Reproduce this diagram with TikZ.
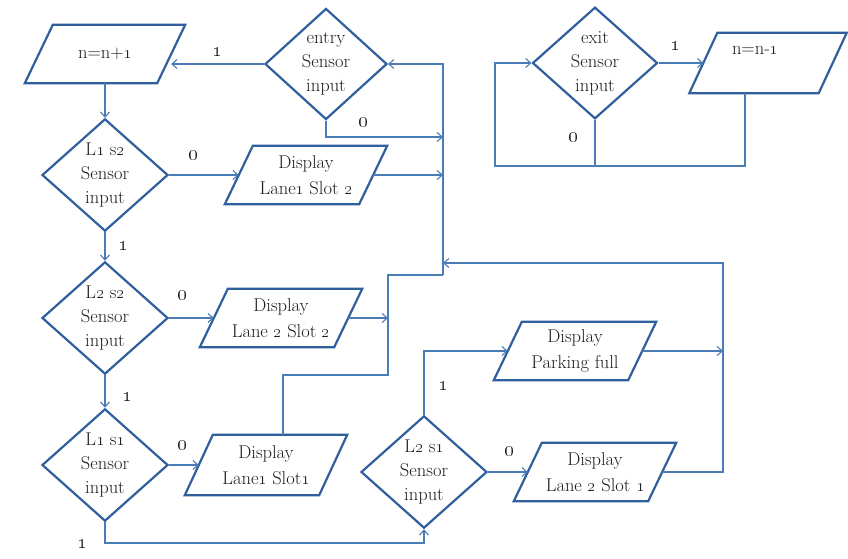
\documentclass[tikz,border=0pt]{standalone}
\usetikzlibrary{shapes.geometric,arrows.meta}
\definecolor{nodeblue}{HTML}{2F5F9C}
\definecolor{lineblue}{HTML}{4A7DB8}
\definecolor{txt}{HTML}{1E1E1E}
\newcommand{\os}[1]{\oldstylenums{#1}}
\newcommand{\bigos}[1]{\scalebox{1.45}{\oldstylenums{#1}}}
\newcommand{\pgram}[1]{\draw[nodeblue, line width=2.2pt]
  ([xshift=14pt]#1.north west) -- ([xshift=14pt]#1.north east) --
  ([xshift=-14pt]#1.south east) -- ([xshift=-14pt]#1.south west) -- cycle;}
\begin{document}
\begin{tikzpicture}[x=1pt,y=-1pt,
  every node/.style={text=txt},
  dec/.style={diamond, draw=nodeblue, line width=2.2pt, minimum width=126pt, minimum height=108pt, inner sep=0pt, align=center, font=\fontsize{18.5}{24}\selectfont},
  io/.style={rectangle, minimum width=134pt, minimum height=58pt, inner sep=0pt, align=center, font=\fontsize{18.5}{26}\selectfont},
  conn/.style={draw=lineblue, line width=1.1pt},
  arr/.style={conn, -{Straight Barb[length=5pt,width=9pt]}},
  lab/.style={font=\fontsize{14}{14}\selectfont}
]
\useasboundingbox (0,0) rectangle (848,558);
\fill[white] (0,0) rectangle (848,558);

\node[dec, minimum width=122pt, minimum height=110pt] (entry) at (326,64) {entry\\Sensor\\input};
\node[dec, minimum width=125pt, minimum height=110pt] (exit) at (595,63) {exit\\Sensor\\input};
\node[dec] (l1s2) at (105,175) {L\os{1} s\os{2}\\Sensor\\input};
\node[dec, minimum height=110pt] (l2s2) at (105,318) {L\os{2} s\os{2}\\Sensor\\input};
\node[dec] (l1s1) at (105,465) {L\os{1} s\os{1}\\Sensor\\input};
\node[dec] (l2s1) at (424,472) {L\os{2} s\os{1}\\Sensor\\input};

\node[io, minimum width=132pt] (nplus) at (105,54) {n=n+\os{1}};
\node[io] (d12) at (306,175) {Display\\Lane\os{1} Slot \os{2}};
\node[io] (d22) at (281,318) {Display\\Lane \os{2} Slot \os{2}};
\node[io, minimum height=60pt] (d11) at (266,465) {Display\\Lane\os{1} Slot\os{1}};
\node[io] (dpf) at (575,351) {Display\\Parking full};
\node[io] (d21) at (595,472) {Display\\Lane \os{2} Slot \os{1}};
\node[io, minimum width=129pt, minimum height=60pt,
  label={[yshift=13pt,xshift=-13pt,font=\fontsize{18.5}{20}\selectfont,text=txt]center:n=n-\os{1}}] (nminus) at (768,63) {};

\foreach \n in {nplus,d12,d22,d11,dpf,d21,nminus} {\pgram{\n}}

\coordinate (ct) at (443,64);
\coordinate (c137) at (443,137);
\coordinate (cb) at (443,275);
\coordinate (j1) at (388,275);
\coordinate (j2) at (388,375);
\coordinate (k1) at (283,375);
\coordinate (c263) at (443,263);
\coordinate (r1) at (723,263);
\coordinate (b1) at (424,543);
\coordinate (e1) at (745,166);
\coordinate (e2) at (495,166);
\coordinate (e3) at (495,63);

\draw[arr] (entry.west) -- (entry.west -| nplus.east);
\draw[arr] (entry.south) |- (c137);
\draw[arr] (cb) -- (ct) -- (entry.east);
\draw[conn] (k1 |- d11.north) -- (k1) -- (j2) -- (j1) -- (cb);
\draw[arr] (nplus.south) -- (l1s2.north);
\draw[arr] (l1s2.east) -- (d12.west);
\draw[arr] (d12.east) -- (d12.east -| ct);
\draw[arr] (l1s2.south) -- (l2s2.north);
\draw[arr] (l2s2.east) -- (d22.west);
\draw[arr] (d22.east) -- (d22.east -| j1);
\draw[arr] (l2s2.south) -- (l1s1.north);
\draw[arr] (l1s1.east) -- (d11.west);
\draw[arr] (l1s1.south) |- (b1) -- (l2s1.south);
\draw[arr] (l2s1.north) |- (dpf.west);
\draw[arr] (l2s1.east) -- (d21.west);
\draw[arr] (dpf.east) -- (dpf.east -| r1);
\draw[arr] (d21.east) -| (r1) -- (c263);
\draw[arr] (exit.east) -- (nminus.west);
\draw[arr] (e1 |- nminus.south) -- (e1) -- (e2) -- (e3) -- (exit.west);
\draw[conn] (exit.south) -- (exit.south |- e1);

\node[lab] (t1) at (217,52) {\bigos{1}};
\node[lab] (t2) at (363,122) {\bigos{0}};
\node[lab] (t3) at (193,155) {\bigos{0}};
\node[lab] (t4) at (123,246) {\bigos{1}};
\node[lab] (t5) at (182,295) {\bigos{0}};
\node[lab] (t6) at (127,397) {\bigos{1}};
\node[lab] (t7) at (182,445) {\bigos{0}};
\node[lab] (t8) at (82,544) {\bigos{1}};
\node[lab] (t9) at (443,386) {\bigos{1}};
\node[lab] (t10) at (509,451) {\bigos{0}};
\node[lab] (t11) at (675,46) {\bigos{1}};
\node[lab] (t12) at (573,137) {\bigos{0}};
\end{tikzpicture}
\end{document}
